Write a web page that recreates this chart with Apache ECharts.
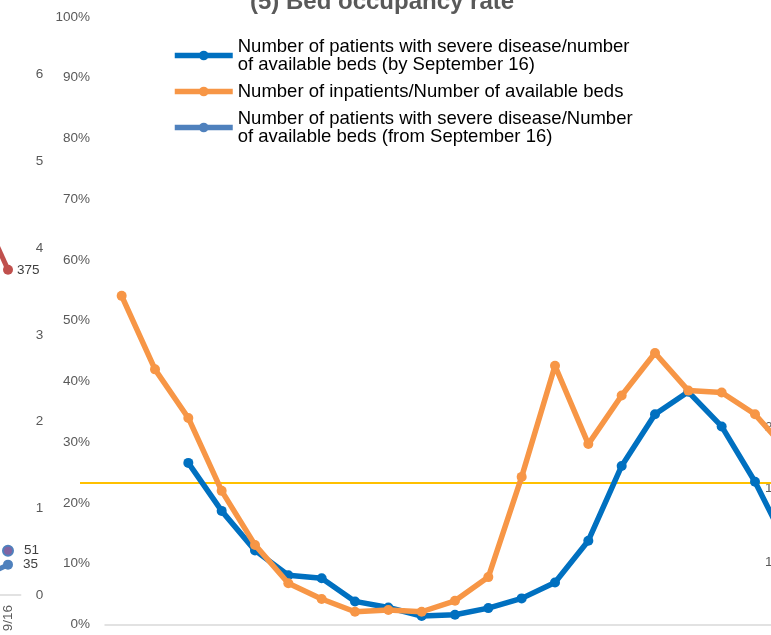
<!DOCTYPE html>
<html>
<head>
<meta charset="utf-8">
<script src="https://cdn.jsdelivr.net/npm/echarts@6/dist/echarts.min.js"></script>
<style>
  html, body { margin: 0; padding: 0; background: #fff; overflow: hidden; }
  #chart { width: 931px; height: 635px; margin-left: -100px; }
</style>
</head>
<body>
<div id="chart"></div>
<script>
// 主图：病床占用率（按期）
var periods = ['P1', 'P2', 'P3', 'P4', 'P5', 'P6', 'P7', 'P8', 'P9', 'P10', 'P11',
  'P12', 'P13', 'P14', 'P15', 'P16', 'P17', 'P18', 'P19', 'P20', 'P21'];
var severeBefore = [null, null, 26.6, 18.7, 12.2, 8.1, 7.6, 3.8, 2.8, 1.4, 1.6,
  2.7, 4.3, 6.9, 13.8, 26.1, 34.6, 38.3, 32.6, 23.5, 12.6];
var inpatients = [54.1, 42.0, 34.0, 22.0, 13.1, 6.8, 4.2, 2.1, 2.4, 2.1, 3.9,
  7.8, 24.3, 42.6, 29.7, 37.7, 44.7, 38.5, 38.2, 34.6, 28.4];
var severeAfter = [];
var thresholdLevel = 23.3;
var percentTicks = [0, 10, 20, 30, 40, 50, 60, 70, 80, 90, 100];

// 左侧相邻图表的残留部分
var leftDates = ['9/13', '9/14', '9/15', '9/16'];
var leftRed = [null, null, 440, 375];
var leftBlue = [null, null, 21, 35];
var leftPurple = [null, null, null, 51];
var leftTicks = [0, 100, 200, 300, 400, 500, 600, 700];

// 右侧相邻图表的残留文字
var rightFragments = [{ text: '2', y: 428 }, { text: '1', y: 489 }, { text: '1', y: 563 }];

var names = [
  'Number of patients with severe disease/number of available beds (by September 16)',
  'Number of inpatients/Number of available beds',
  'Number of patients with severe disease/Number of available beds (from September 16)'
];

var OFF = 100; // 画布向左偏移，让相邻图表被裁掉
var font = 'Liberation Sans, Arial, sans-serif';
var gray = '#595959';

function lastLabel(arr) {
  return arr.map(function (v, i) {
    if (i === arr.length - 1 && v != null) {
      return { value: v, label: { show: true } };
    }
    return v;
  });
}

var myChart = echarts.init(document.getElementById('chart'));

var option = {
  animation: false,
  textStyle: { fontFamily: font },
  title: {
    text: '(5) Bed occupancy rate',
    left: OFF + 245,
    top: -14.5,
    textStyle: { fontSize: 24, fontWeight: 'bold', color: gray, fontFamily: font }
  },
  legend: {
    orient: 'vertical',
    left: OFF + 167,
    top: 32,
    itemWidth: 58,
    itemHeight: 12,
    itemGap: 8,
    data: names,
    lineStyle: { width: 5.5 },
    textStyle: {
      fontSize: 18.5,
      color: '#000',
      fontFamily: font,
      lineHeight: 18,
      width: 400,
      overflow: 'break'
    }
  },
  grid: [
    { left: OFF + 105, top: 17, width: 700, height: 607.5, outerBoundsMode: 'none' },
    { left: OFF - 80.9, top: -12, width: 101.6, height: 607, outerBoundsMode: 'none' },
    { left: OFF + 80, top: 17, width: 725, height: 607.5, outerBoundsMode: 'none' }
  ],
  xAxis: [
    {
      type: 'category',
      gridIndex: 0,
      data: periods,
      boundaryGap: true,
      axisLine: { lineStyle: { color: '#d9d9d9', width: 1.5 } },
      axisTick: { show: false },
      axisLabel: { show: false }
    },
    {
      type: 'category',
      gridIndex: 1,
      data: leftDates,
      axisLine: { lineStyle: { color: '#d9d9d9', width: 1.5 } },
      axisTick: { show: false },
      axisLabel: { rotate: 90, margin: 10, color: gray, fontSize: 13.5, fontFamily: font }
    },
    {
      type: 'value',
      gridIndex: 2,
      min: 0,
      max: 1,
      show: false
    }
  ],
  yAxis: [
    {
      type: 'value',
      gridIndex: 0,
      min: percentTicks[0],
      max: percentTicks[percentTicks.length - 1],
      interval: 10,
      splitLine: { show: false },
      axisLine: { show: false },
      axisTick: { show: false },
      axisLabel: {
        margin: 15,
        color: gray,
        fontSize: 13.5,
        fontFamily: font,
        formatter: function (v) { return v + '%'; }
      }
    },
    {
      type: 'value',
      gridIndex: 1,
      position: 'right',
      min: leftTicks[0],
      max: leftTicks[leftTicks.length - 1],
      interval: 100,
      splitLine: { show: false },
      axisLine: { show: false },
      axisTick: { show: false },
      axisLabel: {
        margin: 15,
        color: gray,
        fontSize: 13.5,
        fontFamily: font,
        formatter: function (v) { return v / 100; }
      }
    },
    {
      type: 'value',
      gridIndex: 2,
      min: percentTicks[0],
      max: percentTicks[percentTicks.length - 1],
      show: false
    }
  ],
  series: [
    {
      name: names[0],
      type: 'line',
      xAxisIndex: 0,
      yAxisIndex: 0,
      data: severeBefore,
      color: '#0070c0',
      symbol: 'circle',
      symbolSize: 10,
      lineStyle: { width: 5.5 },
      z: 3
    },
    {
      name: names[1],
      type: 'line',
      xAxisIndex: 0,
      yAxisIndex: 0,
      data: inpatients,
      color: '#f79646',
      symbol: 'circle',
      symbolSize: 10,
      lineStyle: { width: 5.5 },
      z: 4
    },
    {
      name: names[2],
      type: 'line',
      xAxisIndex: 0,
      yAxisIndex: 0,
      data: severeAfter,
      color: '#4f81bd',
      symbol: 'circle',
      symbolSize: 10,
      lineStyle: { width: 5.5 }
    },
    {
      name: 'threshold',
      type: 'line',
      xAxisIndex: 2,
      yAxisIndex: 2,
      data: [[0, thresholdLevel], [1, thresholdLevel]],
      color: '#ffc000',
      symbol: 'none',
      lineStyle: { width: 2 },
      silent: true,
      z: 2
    },
    {
      name: 'left-red',
      type: 'line',
      xAxisIndex: 1,
      yAxisIndex: 1,
      data: lastLabel(leftRed),
      color: '#c0504d',
      symbol: 'circle',
      symbolSize: 10,
      lineStyle: { width: 5 },
      label: { show: false, position: 'right', distance: 4, color: '#404040', fontSize: 13.5, fontFamily: font }
    },
    {
      name: 'left-blue',
      type: 'line',
      xAxisIndex: 1,
      yAxisIndex: 1,
      data: lastLabel(leftBlue),
      color: '#4f81bd',
      symbol: 'circle',
      symbolSize: 10,
      lineStyle: { width: 5 },
      label: { show: false, position: 'right', distance: 10, color: '#404040', fontSize: 13.5, fontFamily: font }
    },
    {
      name: 'left-purple',
      type: 'line',
      xAxisIndex: 1,
      yAxisIndex: 1,
      data: lastLabel(leftPurple),
      color: '#8064a2',
      symbol: 'circle',
      symbolSize: 10,
      itemStyle: { color: '#8064a2', borderColor: '#4f81bd', borderWidth: 2 },
      lineStyle: { width: 5 },
      label: { show: false, position: 'right', distance: 10, color: '#404040', fontSize: 13.5, fontFamily: font }
    }
  ],
  graphic: rightFragments.map(function (f) {
    return {
      type: 'text',
      left: OFF + 765,
      top: f.y - 8,
      style: { text: f.text, fill: gray, font: '13.5px ' + font }
    };
  })
};

myChart.setOption(option);
</script>
</body>
</html>
